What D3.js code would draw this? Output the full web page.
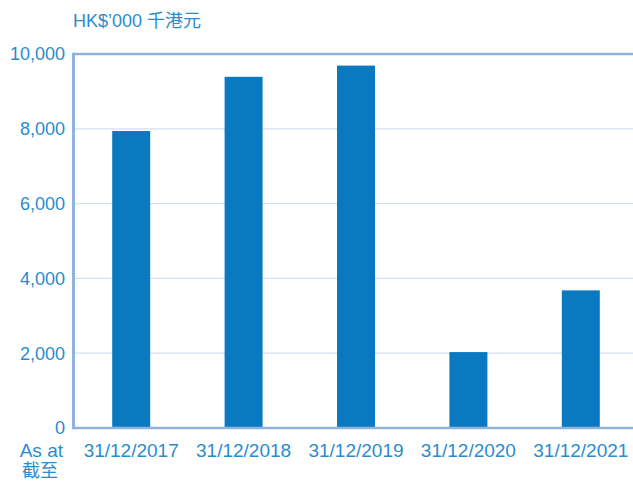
<!DOCTYPE html>
<html lang="en">
<head>
    <meta charset="utf-8">
    <title>Bar chart</title>
    <style type="text/css">
        body { margin: 0; background: #fff; }
        svg text { font-family: "Liberation Sans", Arial, "Noto Sans CJK TC", sans-serif; fill: #2b8ccd; }
    </style>
</head>
<body>
   <svg class="chart" width="633" height="482"></svg>

   <script src="https://d3js.org/d3.v7.min.js"></script>
   <script>
        // 数据
        var categories = ['31/12/2017', '31/12/2018', '31/12/2019', '31/12/2020', '31/12/2021'];
        var values = [7940, 9390, 9690, 2030, 3680];
        var yTicks = [0, 2000, 4000, 6000, 8000, 10000];

        var svg = d3.select('.chart'),
            margin = {top: 54, right: 0, bottom: 54, left: 75},
            width = 637 - margin.left,
            height = 482 - margin.top - margin.bottom;

        var g = svg.append('g')
                    .attr('transform', 'translate(' + margin.left + ',' + margin.top + ')');

        var x = d3.scaleBand()
                    .domain(categories)
                    .range([0, width])
                    .paddingInner(0.662)
                    .paddingOuter(0.331);

        var y = d3.scaleLinear()
                    .domain([0, 10000])
                    .range([height, 0]);

        // 网格线
        g.selectAll('line.grid')
            .data(yTicks.filter(function(d) { return d > 0 && d < 10000; }))
            .enter()
            .append('line')
            .attr('class', 'grid')
            .attr('x1', 0)
            .attr('x2', width)
            .attr('y1', function(d) { return y(d); })
            .attr('y2', function(d) { return y(d); })
            .attr('stroke', '#d5e0f0')
            .attr('stroke-width', 1.2);

        // 柱子
        g.selectAll('rect.bar')
            .data(values)
            .enter()
            .append('rect')
            .attr('class', 'bar')
            .attr('x', function(d, i) { return x(categories[i]); })
            .attr('width', x.bandwidth())
            .attr('y', function(d) { return y(d); })
            .attr('height', function(d) { return height - y(d); })
            .attr('fill', '#0a79c0');

        // 边框: 上、左、下
        var frame = '#8fb2de';
        g.append('line').attr('x1', -1.5).attr('x2', width).attr('y1', y(10000)).attr('y2', y(10000))
            .attr('stroke', frame).attr('stroke-width', 2.5);
        g.append('line').attr('x1', -1.5).attr('x2', width).attr('y1', height).attr('y2', height)
            .attr('stroke', frame).attr('stroke-width', 2.5);
        g.append('line').attr('x1', -1.5).attr('x2', -1.5).attr('y1', -1.2).attr('y2', height + 1.2)
            .attr('stroke', frame).attr('stroke-width', 3);

        // y轴标签
        g.selectAll('text.ylab')
            .data(yTicks)
            .enter()
            .append('text')
            .attr('class', 'ylab')
            .attr('x', -10)
            .attr('y', function(d) { return y(d); })
            .attr('dy', '0.35em')
            .attr('text-anchor', 'end')
            .style('font-size', '18px')
            .text(function(d) { return d3.format(',')(d); });

        // x轴标签
        g.selectAll('text.xlab')
            .data(categories)
            .enter()
            .append('text')
            .attr('class', 'xlab')
            .attr('x', function(d) { return x(d) + x.bandwidth() / 2; })
            .attr('y', height + 29)
            .attr('text-anchor', 'middle')
            .style('font-size', '19px')
            .text(function(d) { return d; });

        svg.append('text').attr('x', 63).attr('y', height + margin.top + 29)
            .attr('text-anchor', 'end').style('font-size', '19px').text('As at');
        svg.append('text').attr('x', 22).attr('y', height + margin.top + 49)
            .style('font-size', '18px').text('截至');

        // 单位
        svg.append('text').attr('x', 73).attr('y', 27)
            .style('font-size', '18px').text('HK$’000 千港元');
   </script>
</body>
</html>
